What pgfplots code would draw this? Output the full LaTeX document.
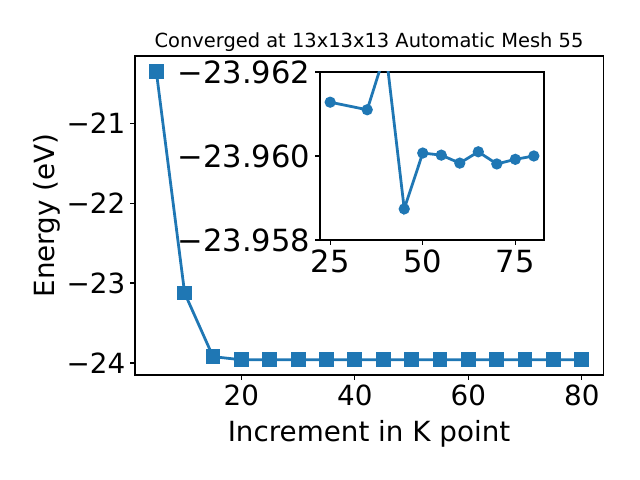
\documentclass[border=0pt]{standalone}
\usepackage{pgfplots}
\pgfplotsset{compat=1.18}
\usepackage{fontspec}
\setmainfont{DejaVu Sans}
\definecolor{mplblue}{HTML}{1F77B4}
\begin{document}
\begin{tikzpicture}
\useasboundingbox (-97.2bp,-75.6bp) rectangle (363.6bp,270bp);
\begin{axis}[
  name=main,
  at={(0,0)}, anchor=south west,
  scale only axis,
  width=337bp, height=229.7bp,
  xmin=1.25, xmax=83.75,
  ymin=-24.15, ymax=-20.16,
  xtick={20,40,60,80},
  ytick={-24,-23,-22,-21},
  yticklabels={−24,−23,−22,−21},
  /pgf/number format/assume math mode=true,
  tick label style={font=\fontsize{20bp}{24bp}\selectfont},
  label style={font=\fontsize{20bp}{24bp}\selectfont},
  title style={font=\fontsize{14bp}{17bp}\selectfont, yshift=-6bp},
  title={Converged at 13x13x13 Automatic Mesh 55},
  xlabel={Increment in K point},
  ylabel={Energy (eV)},
  xtick pos=bottom, ytick pos=left,
  tick align=outside,
  major tick length=3.5bp,
  axis line style={line width=0.8bp},
  every tick/.style={line width=0.8bp, black},
  xlabel style={yshift=-4bp},
  ylabel style={yshift=-2bp},
]
\addplot[mplblue, line width=2bp, mark=square*, mark size=5bp, mark options={solid, fill=mplblue, draw=mplblue, line width=0bp}]
coordinates {
(5,-20.35) (10,-23.125) (15,-23.92) (20,-23.96) (25,-23.96) (30,-23.96) (35,-23.96) (40,-23.96)
(45,-23.96) (50,-23.96) (55,-23.96) (60,-23.96) (65,-23.96) (70,-23.96) (75,-23.96) (80,-23.96)
};
\end{axis}
\begin{axis}[
  at={(133.2bp,97.2bp)}, anchor=south west,
  scale only axis,
  width=161.3bp, height=121bp,
  xmin=22.25, xmax=82.75,
  ymin=-23.962, ymax=-23.958,
  y dir=reverse,
  axis background/.style={fill=white},
  xtick={25,50,75},
  ytick={-23.962,-23.960,-23.958},
  yticklabels={−23.962,−23.960,−23.958},
  /pgf/number format/assume math mode=true,
  tick label style={font=\fontsize{22bp}{26bp}\selectfont},
  xtick pos=bottom, ytick pos=left,
  tick align=outside,
  major tick length=3.5bp,
  axis line style={line width=0.8bp},
  every tick/.style={line width=0.8bp, black},
]
\addplot[mplblue, line width=2bp, mark=*, mark size=3bp, mark options={solid, fill=mplblue, draw=mplblue}]
coordinates {
(25,-23.96128) (35,-23.96110) (40,-23.9625) (45,-23.95874) (50,-23.96007) (55,-23.96002)
(60,-23.95983) (65,-23.96010) (70,-23.95981) (75,-23.95992) (80,-23.96000)
};
\end{axis}
\end{tikzpicture}
\end{document}
